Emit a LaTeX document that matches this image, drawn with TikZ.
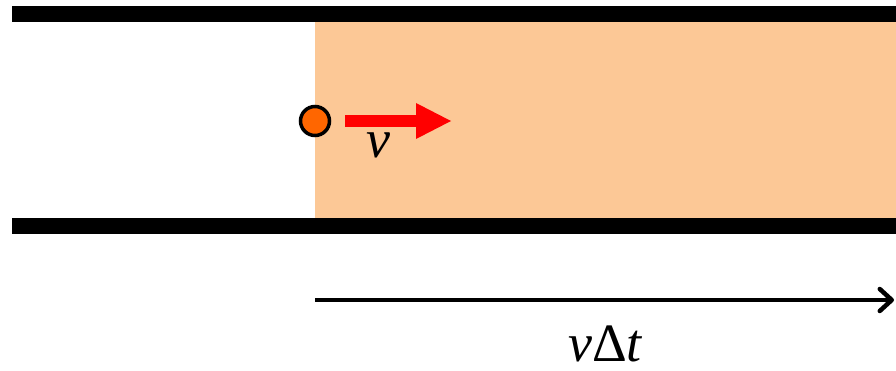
\documentclass[tikz,border=0pt]{standalone}
\usepackage{fontspec}
\setmainfont{Liberation Serif}
\usetikzlibrary{arrows.meta}
\definecolor{tube}{HTML}{FCC896}
\definecolor{ball}{HTML}{FF6600}
\tikzset{
  wall/.style={fill=black},
  lbl/.style={font=\fontsize{54}{60}\selectfont, inner sep=0pt},
}
\begin{document}
\begin{tikzpicture}[x=1pt,y=-1pt]
\useasboundingbox (0,0) rectangle (896,371);
\fill[tube] (315,22) rectangle (896,218);
\fill[wall] (12,6) rectangle (896,22);
\fill[wall] (12,218) rectangle (896,234);
\node[circle, draw=black, line width=3.5pt, fill=ball, minimum size=29pt, inner sep=0pt] (p) at (315,121) {};
\coordinate (vs) at (345,121);
\coordinate (ve) at (451,121);
\draw[red, line width=12pt, -{Triangle[length=35pt,width=36pt,line width=0pt]}] (vs) -- (ve);
\node[lbl] (v) at (378,145) {\itshape v};
\coordinate (ds) at (315,300);
\coordinate (de) at (894,300);
\draw[line width=4.5pt, -{Straight Barb[length=12pt,width=22pt,line cap=round,line join=round]}] (ds) -- (de);
\node[lbl, text depth=0pt, anchor=base] (d) at (605,361) {\itshape v\upshape Δ\itshape t};
\end{tikzpicture}
\end{document}
